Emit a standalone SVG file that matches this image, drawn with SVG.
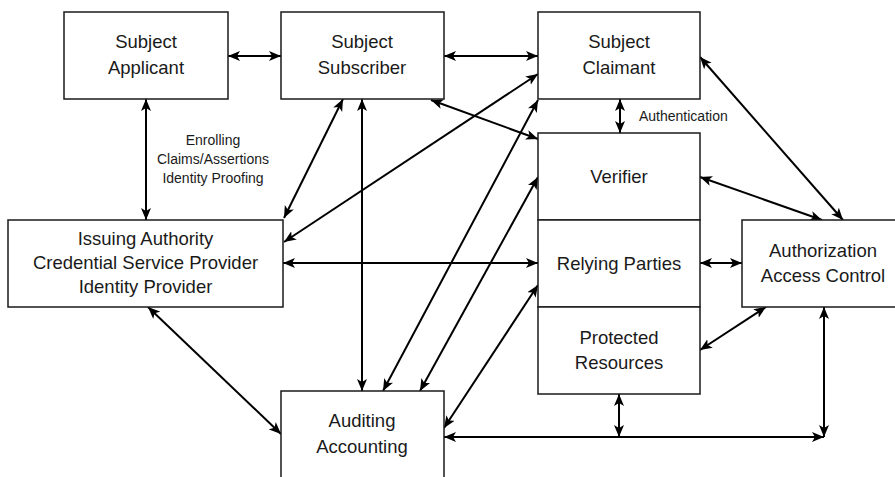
<svg xmlns="http://www.w3.org/2000/svg" width="895" height="477" viewBox="0 0 895 477">
<defs>
<style>
.box{fill:#fff;stroke:#1a1a1a;stroke-width:1.5}
.t{font-family:"Liberation Sans",Arial,sans-serif;font-size:18.5px;fill:#1a1a1a;text-anchor:middle}
.s{font-family:"Liberation Sans",Arial,sans-serif;font-size:14px;fill:#1a1a1a}
.c line{stroke:#000;stroke-width:2;marker-start:url(#ah);marker-end:url(#ah)}
</style>
<marker id="ah" markerUnits="userSpaceOnUse" markerWidth="13" markerHeight="11" refX="12" refY="5" orient="auto-start-reverse">
<path d="M0,0 L12,5 L0,10 L3,5 z" fill="#000"/>
</marker>
</defs>
<rect width="895" height="477" fill="#fff"/>
<g id="connectors" class="c">
<line x1="228" y1="56" x2="281" y2="56"/>
<line x1="444" y1="56" x2="538" y2="56"/>
<line x1="146" y1="99" x2="146" y2="220"/>
<line x1="343" y1="99" x2="284" y2="218"/>
<line x1="362" y1="99" x2="362" y2="391"/>
<line x1="538" y1="74" x2="284" y2="242"/>
<line x1="538" y1="100" x2="383" y2="391"/>
<line x1="431" y1="100" x2="538" y2="139"/>
<line x1="538" y1="177" x2="420" y2="391"/>
<line x1="283" y1="263" x2="538" y2="263"/>
<line x1="538" y1="285" x2="444" y2="428"/>
<line x1="700" y1="263" x2="742" y2="263"/>
<line x1="700" y1="350" x2="766" y2="307"/>
<line x1="700" y1="177" x2="822" y2="220"/>
<line x1="700" y1="57" x2="843" y2="220"/>
<line x1="148" y1="307" x2="281" y2="434"/>
<line x1="444" y1="437" x2="824" y2="437"/>
<line x1="619" y1="394" x2="619" y2="437"/>
<line x1="824" y1="307" x2="824" y2="437"/>
<line x1="620" y1="99" x2="620" y2="133"/>
</g>
<g id="labels">
<text class="s" x="213" y="145" text-anchor="middle">Enrolling</text>
<text class="s" x="213" y="164" text-anchor="middle">Claims/Assertions</text>
<text class="s" x="213" y="183" text-anchor="middle">Identity Proofing</text>
<text class="s" x="639" y="121">Authentication</text>
</g>
<g id="subject-applicant">
<rect class="box" x="64" y="12" width="164" height="87"/>
<text class="t" x="146" y="48">Subject</text>
<text class="t" x="146" y="74">Applicant</text>
</g>
<g id="subject-subscriber">
<rect class="box" x="281" y="12" width="163" height="87"/>
<text class="t" x="362" y="48">Subject</text>
<text class="t" x="362" y="74">Subscriber</text>
</g>
<g id="subject-claimant">
<rect class="box" x="538" y="12" width="162" height="87"/>
<text class="t" x="619" y="48">Subject</text>
<text class="t" x="619" y="74">Claimant</text>
</g>
<g id="verifier">
<rect class="box" x="538" y="133" width="162" height="87"/>
<text class="t" x="619" y="183">Verifier</text>
</g>
<g id="relying-parties">
<rect class="box" x="538" y="220" width="162" height="87"/>
<text class="t" x="619" y="270">Relying Parties</text>
</g>
<g id="protected-resources">
<rect class="box" x="538" y="307" width="162" height="87"/>
<text class="t" x="619" y="344">Protected</text>
<text class="t" x="619" y="369">Resources</text>
</g>
<g id="issuing-authority">
<rect class="box" x="8" y="220" width="275" height="87"/>
<text class="t" x="145.5" y="245">Issuing Authority</text>
<text class="t" x="145.5" y="269">Credential Service Provider</text>
<text class="t" x="145.5" y="293">Identity Provider</text>
</g>
<g id="authorization">
<rect class="box" x="742" y="220" width="163" height="87"/>
<text class="t" x="823" y="257">Authorization</text>
<text class="t" x="823" y="282">Access Control</text>
</g>
<g id="auditing">
<rect class="box" x="281" y="391" width="163" height="100"/>
<text class="t" x="362" y="427">Auditing</text>
<text class="t" x="362" y="453">Accounting</text>
</g>
</svg>
